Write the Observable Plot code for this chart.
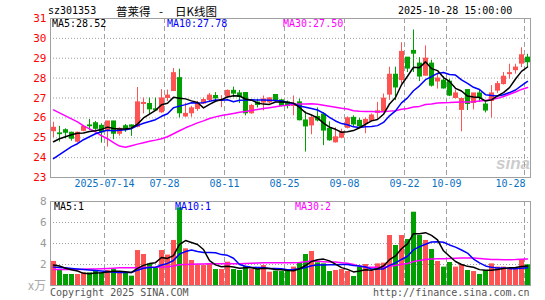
<!DOCTYPE html>
<html><head><meta charset="utf-8">
<script src="https://cdn.jsdelivr.net/npm/d3@7"></script>
<script src="https://cdn.jsdelivr.net/npm/@observablehq/plot@0.6"></script>
<style>
body{margin:0;background:#fff;}
#wrap{position:relative;width:545px;height:300px;overflow:hidden;font-family:"DejaVu Sans Mono",monospace;}
#wrap svg{position:absolute;left:0;}
.t{position:absolute;white-space:pre;font-size:10px;line-height:10px;font-family:"DejaVu Sans Mono",monospace;}
</style></head><body><div id="wrap"></div>
<script>
// ---- data ----
const opens = [25.33,25.22,25.38,25.25,24.8,25.35,25.62,25.73,25.6,25.37,
25.82,25.2,25.58,25.62,25.55,26.7,26.7,26.43,26.28,27.0,
27.35,28.0,26.07,26.23,26.45,26.72,26.9,27.1,26.86,27.06,
27.36,27.23,27.25,26.23,26.77,26.77,26.78,27.15,26.88,26.77,
26.6,26.78,25.87,25.62,26.05,26.17,25.45,24.77,25.0,25.5,
26.0,25.85,25.7,25.85,26.25,26.3,27.17,28.17,27.9,29.03,
29.37,28.73,28.12,28.73,27.83,27.87,27.82,27.0,26.4,27.4,
26.75,27.23,26.67,26.85,27.37,27.7,28.2,28.4,28.73,29.03];
const closes = [25.5,25.18,25.25,24.95,25.25,25.55,25.58,25.45,25.27,25.82,
25.2,25.45,25.45,25.55,26.78,26.75,26.43,26.38,26.98,27.12,
28.25,26.23,26.2,26.48,26.7,26.9,27.12,26.98,26.9,27.36,
27.22,27.05,26.23,26.6,26.65,26.93,26.98,26.85,26.6,26.6,
26.68,25.88,25.57,26.0,25.87,25.36,24.87,25.02,25.27,25.98,
25.67,25.58,25.9,26.12,26.33,26.97,28.17,27.53,29.32,28.48,
29.23,28.08,28.98,27.62,27.98,27.48,27.12,27.23,26.95,26.7,
27.23,27.0,26.37,27.23,27.7,28.07,28.25,28.53,29.15,28.8];
const highs = [25.78,25.57,25.45,25.28,25.28,25.62,25.92,25.82,25.7,25.82,
25.82,25.5,25.67,25.65,27.53,27.0,27.0,27.0,27.42,27.4,
28.48,28.45,26.73,26.58,26.83,27.0,27.23,27.27,27.12,27.4,
27.55,27.38,27.25,26.68,26.93,27.1,27.02,27.15,26.93,26.85,
27.1,26.95,26.3,26.1,26.5,26.27,25.8,25.5,25.43,26.05,
26.1,25.98,26.0,26.2,26.78,27.2,28.55,28.55,29.78,29.03,
30.42,29.03,29.62,28.9,28.25,28.07,27.95,27.4,27.0,27.4,
27.23,27.4,26.78,27.62,27.83,28.28,28.7,28.7,29.53,29.2];
const lows = [25.0,24.78,24.95,24.83,24.73,25.3,25.37,25.37,24.73,24.53,
24.9,25.08,25.27,25.07,25.5,26.2,26.17,26.33,26.23,26.83,
27.33,26.0,26.03,26.03,26.33,26.68,26.82,26.77,26.52,27.05,
27.02,26.72,26.1,26.18,26.5,26.35,26.7,26.8,26.55,26.45,
26.1,25.85,24.28,25.15,25.8,24.6,24.83,24.73,24.95,25.45,
25.52,25.52,25.2,25.8,25.87,26.28,26.88,26.87,27.7,28.28,
28.28,27.83,28.12,27.55,27.45,27.45,27.07,26.95,25.3,26.37,
26.4,26.78,26.25,26.0,27.23,27.65,27.95,28.2,28.53,28.53];
const vols = [2.29,1.43,1.05,1.05,1.05,1.2,1.2,1.43,1.2,1.43,
1.52,1.2,1.2,0.89,3.33,2.95,2.06,1.65,3.33,2.9,
4.29,7.4,3.49,2.38,1.97,1.9,2.06,1.52,1.52,2.22,
1.52,1.43,1.81,1.52,1.59,1.9,1.27,1.37,1.33,1.33,
1.75,2.16,2.95,3.24,2.16,2.06,1.33,1.43,1.52,1.33,
0.86,1.75,2.0,1.33,2.06,2.13,4.76,3.81,4.76,4.38,
6.98,4.76,4.29,3.43,2.29,1.75,2.19,1.75,2.0,1.43,
1.33,1.05,1.43,2.06,1.75,1.75,1.52,1.52,2.48,1.97];
// moving-average values before a full window exists
const ma5Early = [24.8,24.95,25.05,25.15];
const ma10Early = [23.95,24.15,24.35,24.55,24.7,24.9,25.05,25.2,25.3];
const ma30Early = [26.4,26.25,26.1,25.95,25.8,25.6,25.45,25.3,25.1,24.95,24.75,24.58,24.52,24.6,24.68,24.75,24.82,24.88,24.95,25.05,25.2,25.35,25.5,25.62,25.75,25.85,25.97,26.05,26.12];
const vma5Early = [1.95,1.85,1.65,1.5];
const vma10Early = [1.75,1.72,1.68,1.63,1.58,1.52,1.47,1.42,1.38];
const vma30Early = [1.52,1.52,1.52,1.52,1.52,1.55,1.58,1.58,1.6,1.62,1.65,1.68,1.68,1.68,1.7,1.72,1.73,1.74,1.75,1.78,1.85,1.98,2.0,2.02,2.04,2.05,2.06,2.06,2.07];
const tickIndex = [9,19,29,39,49,59,66,79];
const tickLabels = ["2025-07-14","07-28","08-11","08-25","09-08","09-22","10-09","10-28"];
const priceTicks = [23,24,25,26,27,28,29,30,31];
const volTicks = [2,4,6,8];
const priceLegend = ["MA5:28.52", "MA10:27.78", "MA30:27.50"];
const volLegend = ["MA5:1", "MA10:1", "MA30:2"];

// ---- derived ----
const n = closes.length;
const idx = d3.range(n);
const ma = (arr, w, early) => idx.map(i => i >= w - 1 ? d3.mean(arr.slice(i - w + 1, i + 1)) : early[i]);
const ma5 = ma(closes, 5, ma5Early), ma10 = ma(closes, 10, ma10Early), ma30 = ma(closes, 30, ma30Early);
const vma5 = ma(vols, 5, vma5Early), vma10 = ma(vols, 10, vma10Early), vma30 = ma(vols, 30, vma30Early);
const RED = "#ff5252", GREEN = "#00a000", GRID = "#a0a0a0", BLUE_T = "#0a70c4";
const col = i => closes[i] >= opens[i] ? RED : GREEN;
const xOpt = {type: "linear", domain: [-0.5, n - 0.5], axis: null};
const ticksLast = tickIndex.slice(0, -1), lastTick = tickIndex[tickIndex.length - 1];

const price = Plot.plot({
  width: 545, height: 192, marginLeft: 50, marginRight: 15, marginTop: 18, marginBottom: 15,
  x: xOpt, y: {domain: [23, 31], axis: null}, color: {type: "identity"},
  style: {background: "transparent", fontFamily: "DejaVu Sans Mono", fontSize: "10px", overflow: "visible"},
  marks: [
    Plot.ruleY(priceTicks.slice(1, -1), {stroke: GRID, strokeDasharray: "1,2"}),
    Plot.ruleX(tickIndex, {x: d => d - 0.5, stroke: GRID, strokeDasharray: "5,3"}),
    Plot.ruleX(idx, {x: i => i, y1: i => lows[i], y2: i => highs[i], stroke: col}),
    Plot.rect(idx, {x1: i => i - 0.5, x2: i => i + 0.5, y1: i => opens[i], y2: i => closes[i], fill: col, insetLeft: 1, insetTop: -0.5, insetBottom: -0.5}),
    Plot.line(idx, {x: i => i, y: i => ma30[i], stroke: "#ff00ff"}),
    Plot.line(idx, {x: i => i, y: i => ma10[i], stroke: "#0000ff"}),
    Plot.line(idx, {x: i => i, y: i => ma5[i], stroke: "#000"}),
    Plot.frame({stroke: GRID}),
    Plot.text(priceTicks, {y: d => d, text: d => String(d), frameAnchor: "left", textAnchor: "end", dx: -4, fill: "#f00", fontSize: 11}),
    Plot.text(ticksLast, {x: d => d - 0.5, text: d => tickLabels[tickIndex.indexOf(d)], frameAnchor: "bottom", dy: 9, fill: BLUE_T}),
    Plot.text([lastTick], {x: d => d - 0.5, text: d => tickLabels[tickIndex.indexOf(d)], frameAnchor: "bottom", dy: 9, dx: -14, fill: BLUE_T})
  ]
});
price.style.top = "0px";

const volume = Plot.plot({
  width: 545, height: 108, marginLeft: 50, marginRight: 15, marginTop: 9, marginBottom: 15,
  x: xOpt, y: {domain: [0, 8], axis: null}, color: {type: "identity"},
  style: {background: "transparent", fontFamily: "DejaVu Sans Mono", fontSize: "10px", overflow: "visible"},
  marks: [
    Plot.ruleY([2, 4, 6], {stroke: GRID, strokeDasharray: "1,2"}),
    Plot.ruleX(tickIndex, {x: d => d - 0.5, stroke: GRID, strokeDasharray: "5,3"}),
    Plot.rect(idx, {x1: i => i - 0.5, x2: i => i + 0.5, y1: 0, y2: i => vols[i], fill: col, insetLeft: 1}),
    Plot.line(idx, {x: i => i, y: i => vma30[i], stroke: "#ff00ff"}),
    Plot.line(idx, {x: i => i, y: i => vma10[i], stroke: "#0000ff"}),
    Plot.line(idx, {x: i => i, y: i => vma5[i], stroke: "#000"}),
    Plot.frame({stroke: GRID}),
    Plot.text(volTicks, {y: d => d, text: d => String(d), frameAnchor: "left", textAnchor: "end", dx: -4, fill: "#999", fontSize: 11})
  ]
});
volume.style.top = "192px";

const wrap = document.getElementById("wrap");
wrap.append(price, volume);
const label = (txt, left, top, color, extra = "") => {
  const d = document.createElement("div");
  d.className = "t"; d.textContent = txt;
  d.style.cssText = `left:${left}px;top:${top}px;color:${color};${extra}`;
  wrap.append(d);
};
const cjk = "font-family:'Noto Sans CJK SC',sans-serif;font-size:11.5px;line-height:12px;";
label("sz301353", 48, 6, "#000");
label("普莱得", 116, 5, "#000", cjk);
label("-", 159, 5, "#000", cjk);
label("日K线图", 175, 5, "#000", cjk);
label("2025-10-28 15:00:00", 398, 6, "#000");
label(priceLegend[0], 52, 19, "#000");
label(priceLegend[1], 167, 19, "#0000ff");
label(priceLegend[2], 283, 19, "#ff00ff");
label(volLegend[0], 54, 202, "#000");
label(volLegend[1], 175, 202, "#0000ff");
label(volLegend[2], 295, 202, "#ff00ff");
label("Copyright 2025 SINA.COM", 50, 288, "#555");
label("http://finance.sina.com.cn", 373, 288, "#555");
label("x万", 28, 279, "#aaa", "font-family:'Noto Sans CJK SC',sans-serif;font-size:12px;line-height:12px;");
label("sina", 496, 155, "rgba(160,160,160,0.55)", "font-family:'Liberation Sans',sans-serif;font-size:17px;line-height:17px;font-style:italic;font-weight:bold;");
</script></body></html>
